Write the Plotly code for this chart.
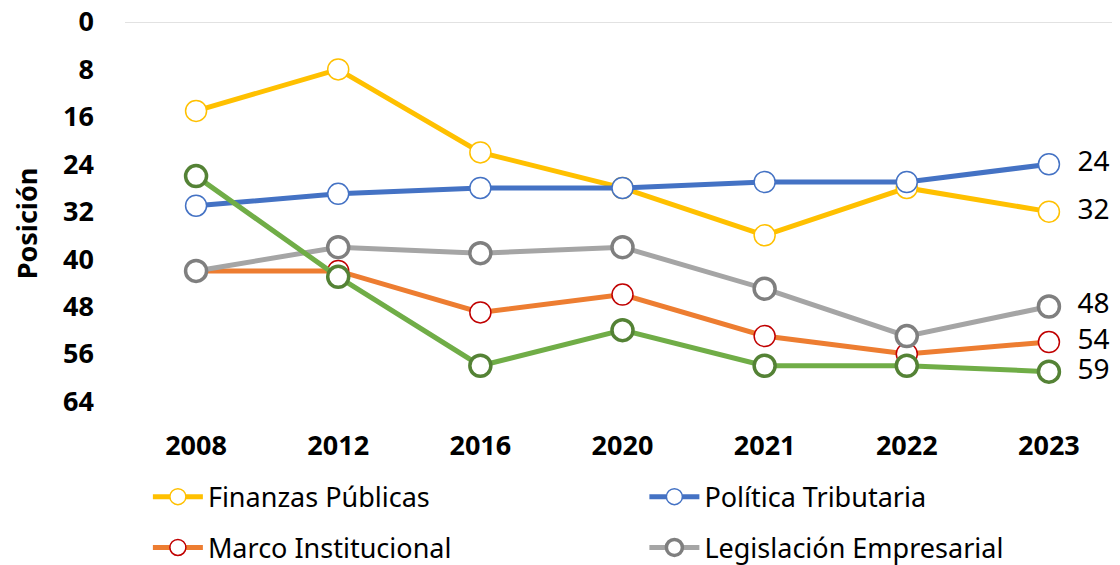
import plotly.graph_objects as go

years = ["2008", "2012", "2016", "2020", "2021", "2022", "2023"]

finanzas_publicas = [15, 8, 22, 28, 36, 28, 32]
politica_tributaria = [31, 29, 28, 28, 27, 27, 24]
marco_institucional = [42, 42, 49, 46, 53, 56, 54]
legislacion_empresarial = [42, 38, 39, 38, 45, 53, 48]
marco_social = [26, 43, 58, 52, 58, 58, 59]

y_ticks = [0, 8, 16, 24, 32, 40, 48, 56, 64]

FONT = "Noto Sans"

series = [
    # name, values, line colour, marker edge, marker edge width, legend
    ("Finanzas Públicas", finanzas_publicas, "#FFC000", "#FFC000", 1.5, "legend"),
    ("Política Tributaria", politica_tributaria, "#4472C4", "#4472C4", 1.5, "legend2"),
    ("Marco Institucional", marco_institucional, "#ED7D31", "#C00000", 1.5, "legend3"),
    ("Legislación Empresarial", legislacion_empresarial, "#A5A5A5", "#7F7F7F", 3.5, "legend4"),
    ("Marco Social", marco_social, "#70AD47", "#548235", 3.5, None),
]


def last_label(vals):
    return [""] * (len(vals) - 1) + [str(vals[-1])]


fig = go.Figure()
for name, vals, lc, mc, mw, leg in series:
    fig.add_trace(
        go.Scatter(
            x=years,
            y=vals,
            name=name,
            mode="lines+markers+text",
            line=dict(color=lc, width=5),
            marker=dict(size=21, color="white", line=dict(color=mc, width=mw)),
            text=last_label(vals),
            texttemplate="  %{text}",
            textposition="middle right",
            textfont=dict(family=FONT, size=28, color="black"),
            showlegend=leg is not None,
            legend=leg if leg else "legend",
        )
    )

# light gridline at 0
fig.add_shape(
    type="line", xref="paper", yref="y", x0=0, x1=1, y0=0, y1=0,
    line=dict(color="#D9D9D9", width=1.5), layer="below",
)


def legend_at(x, y):
    return dict(
        xanchor="left",
        yanchor="middle",
        x=x,
        y=y,
        itemwidth=50,
        font=dict(family=FONT, size=27, color="black"),
        bgcolor="rgba(0,0,0,0)",
    )


# the page body adds an 8px offset, so margins are shifted to compensate
fig.update_layout(
    width=1120,
    height=565,
    margin=dict(l=117, r=8, t=14, b=148, autoexpand=False),
    plot_bgcolor="white",
    paper_bgcolor="white",
    font=dict(family=FONT, color="black"),
    xaxis=dict(
        type="category",
        range=[-0.5, 6.5],
        showgrid=False,
        showline=False,
        zeroline=False,
        automargin=False,
        tickfont=dict(family=FONT, size=27, color="black", weight="bold"),
        ticks="",
        ticklabelstandoff=2,
    ),
    yaxis=dict(
        range=[68, 0],
        tickvals=y_ticks,
        showgrid=False,
        zeroline=False,
        showline=False,
        automargin=False,
        ticks="",
        ticklabelstandoff=30,
        ticklabeloverflow="allow",
        tickfont=dict(family=FONT, size=27, color="black", weight="bold"),
        title=dict(
            text="Posición",
            font=dict(family=FONT, size=27, color="black", weight="bold"),
            standoff=20,
        ),
    ),
    legend=legend_at(0.023, -0.179),
    legend2=legend_at(0.522, -0.179),
    legend3=legend_at(0.023, -0.305),
    legend4=legend_at(0.522, -0.305),
)

fig.write_html("out.html")
